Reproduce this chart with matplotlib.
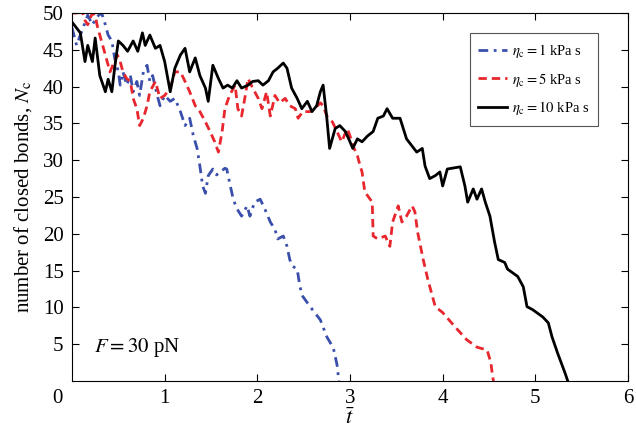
import matplotlib
matplotlib.use('Agg')
import matplotlib.pyplot as plt

plt.rcParams['font.family'] = 'serif'
plt.rcParams['font.serif'] = ['Liberation Serif', 'DejaVu Serif']
plt.rcParams['mathtext.fontset'] = 'stix'

# eta_c = 1 kPa s
t_1 = [0.00, 0.05, 0.09, 0.12, 0.17, 0.22, 0.27, 0.32, 0.36, 0.39, 0.43, 0.46, 0.50, 0.52,
       0.55, 0.59, 0.63, 0.66, 0.70, 0.73, 0.77, 0.81, 0.84, 0.87, 0.92, 0.95, 1.00, 1.06,
       1.11, 1.17, 1.22, 1.27, 1.31, 1.35, 1.38, 1.41, 1.44, 1.47, 1.52, 1.56, 1.60, 1.65,
       1.67, 1.70, 1.74, 1.78, 1.83, 1.89, 1.92, 1.97, 2.03, 2.08, 2.14, 2.19, 2.22, 2.28,
       2.32, 2.35, 2.38, 2.43, 2.46, 2.49, 2.57, 2.68, 2.75, 2.82, 2.86, 2.88]
n_1 = [48.0, 45.6, 47.0, 48.0, 49.7, 48.4, 49.5, 50.0, 48.4, 47.0, 46.2, 43.9, 42.0, 40.2,
       42.0, 40.2, 41.5, 39.3, 40.7, 38.8, 42.0, 42.9, 40.7, 41.5, 38.8, 37.4, 38.8, 38.0,
       38.4, 36.6, 34.7, 35.7, 33.3, 31.6, 29.2, 26.5, 25.5, 27.9, 28.8, 28.0, 28.4, 28.9,
       28.8, 27.0, 24.7, 23.4, 22.4, 23.8, 22.4, 24.3, 24.7, 23.4, 21.6, 20.6, 19.3, 19.7,
       18.3, 16.5, 15.6, 15.2, 12.8, 11.5, 10.1, 8.3, 6.0, 4.5, 2.2, 0.0]

# eta_c = 5 kPa s
t_5 = [0.01, 0.05, 0.09, 0.14, 0.17, 0.22, 0.25, 0.27, 0.30, 0.36, 0.41, 0.44, 0.49, 0.52,
       0.55, 0.59, 0.63, 0.66, 0.70, 0.73, 0.77, 0.81, 0.84, 0.90, 0.95, 1.00, 1.06, 1.11,
       1.17, 1.22, 1.27, 1.33, 1.38, 1.44, 1.49, 1.54, 1.58, 1.62, 1.65, 1.70, 1.76, 1.79,
       1.83, 1.87, 1.90, 1.95, 2.01, 2.05, 2.10, 2.14, 2.19, 2.24, 2.30, 2.35, 2.41, 2.44,
       2.49, 2.57, 2.62, 2.68, 2.71, 2.75, 2.81, 2.86, 2.91, 2.97, 3.00, 3.03, 3.08, 3.11,
       3.13, 3.16, 3.24, 3.25, 3.30, 3.38, 3.43, 3.46, 3.52, 3.56, 3.61, 3.67, 3.70, 3.73,
       3.79, 3.84, 3.92, 4.00, 4.13, 4.26, 4.37, 4.48, 4.52, 4.54, 4.55]
n_5 = [50.0, 50.0, 51.0, 49.0, 48.4, 50.0, 49.7, 48.4, 47.0, 44.3, 42.0, 42.9, 44.3, 43.4,
       42.0, 41.1, 40.7, 38.4, 37.0, 34.7, 35.7, 37.4, 39.3, 40.7, 38.4, 38.8, 39.8, 42.0,
       42.0, 40.7, 39.3, 37.4, 36.6, 35.2, 33.9, 32.5, 31.1, 33.9, 37.0, 38.8, 40.2, 37.0,
       36.0, 38.8, 41.1, 39.8, 38.4, 37.0, 39.3, 36.0, 38.8, 37.8, 38.4, 37.4, 37.0, 35.7,
       36.6, 36.6, 37.0, 37.8, 37.4, 36.0, 35.2, 33.9, 32.5, 34.3, 33.3, 32.0, 30.6, 29.2,
       28.4, 25.7, 24.3, 19.7, 19.3, 19.7, 18.3, 21.6, 23.8, 21.6, 22.4, 23.8, 23.0, 20.2,
       16.5, 13.8, 10.1, 9.3, 7.4, 5.6, 4.6, 4.2, 2.5, 0.5, 0.0]

# eta_c = 10 kPa s
t_10 = [0.01, 0.09, 0.14, 0.17, 0.22, 0.25, 0.30, 0.36, 0.39, 0.43, 0.46, 0.50, 0.55, 0.60,
        0.66, 0.71, 0.76, 0.79, 0.84, 0.90, 0.95, 1.00, 1.06, 1.11, 1.17, 1.22, 1.27, 1.33,
        1.38, 1.44, 1.47, 1.52, 1.58, 1.63, 1.68, 1.73, 1.78, 1.83, 1.90, 1.95, 2.01, 2.06,
        2.12, 2.17, 2.22, 2.28, 2.32, 2.37, 2.43, 2.48, 2.54, 2.59, 2.64, 2.68, 2.71, 2.75,
        2.78, 2.84, 2.89, 2.95, 3.00, 3.03, 3.08, 3.13, 3.19, 3.25, 3.30, 3.36, 3.40, 3.46,
        3.54, 3.61, 3.72, 3.78, 3.81, 3.86, 3.92, 3.97, 4.00, 4.05, 4.19, 4.24, 4.27, 4.33,
        4.37, 4.42, 4.46, 4.51, 4.56, 4.60, 4.67, 4.70, 4.81, 4.87, 4.91, 4.97, 5.08, 5.14,
        5.18, 5.24, 5.32, 5.35]
n_10 = [48.6, 47.3, 43.4, 45.6, 43.4, 46.6, 41.5, 39.3, 41.0, 39.3, 42.5, 46.2, 45.6, 44.8,
        46.2, 44.8, 47.3, 45.6, 47.0, 45.2, 45.6, 43.4, 39.3, 42.5, 44.3, 45.2, 42.0, 43.9,
        41.5, 39.8, 38.0, 42.9, 41.1, 39.8, 40.2, 39.8, 40.8, 39.8, 40.2, 40.7, 40.8, 40.2,
        40.8, 42.0, 42.5, 43.2, 42.5, 39.8, 38.4, 37.0, 38.0, 36.6, 37.4, 39.3, 40.2, 35.7,
        31.6, 34.3, 34.7, 33.9, 32.5, 31.6, 32.9, 32.5, 33.3, 33.9, 35.7, 36.0, 37.0, 35.7,
        35.7, 32.9, 31.1, 31.6, 29.2, 27.5, 27.9, 28.4, 26.5, 28.8, 29.1, 26.5, 24.3, 26.1,
        24.7, 26.1, 24.3, 22.4, 18.9, 16.5, 16.1, 15.2, 14.2, 12.8, 10.1, 9.7, 8.7, 7.9,
        6.0, 3.8, 1.1, 0.0]

labels = [r'$\eta_\mathrm{c} = 1$ kPa s', r'$\eta_\mathrm{c} = 5$ kPa s', r'$\eta_\mathrm{c} = 10$ kPa s']

fig = plt.figure(figsize=(6.36, 4.41), dpi=100)
ax = fig.add_axes([72/636, 1 - 381/441, 556/636, 368/441])

ax.plot(t_1, n_1, color='#3a4fab', ls=(0, (3.5, 2, 1, 2)), lw=2.0, label=labels[0])
ax.plot(t_5, n_5, color='#e8262d', ls=(0, (3, 1.8)), lw=2.0, label=labels[1])
ax.plot(t_10, n_10, color='black', ls='-', lw=2.0, label=labels[2])

ax.set_xlim(0, 6)
ax.set_ylim(0, 50)
ax.set_xticks([1, 2, 3, 4, 5, 6])
ax.set_yticks([5, 10, 15, 20, 25, 30, 35, 40, 45, 50])
ax.tick_params(direction='in', top=True, right=True, labelsize=15, length=5, pad=6)
ax.annotate('0', xy=(0, 0), xycoords='data', xytext=(-15, -8),
            textcoords='offset pixels', ha='center', va='top', fontsize=15)

ax.set_xlabel(r'$\bar{t}$', fontsize=16, labelpad=0)
ax.set_ylabel(r'number of closed bonds, $N_\mathrm{c}$', fontsize=15, labelpad=6)

ax.text(0.04, 0.09, r'$F = 30$ pN', transform=ax.transAxes, fontsize=15, va='center')

leg = ax.legend(loc='upper right', bbox_to_anchor=(0.946, 0.946), borderaxespad=0,
                fontsize=10.5, fancybox=False, edgecolor='#555555', handlelength=2.0,
                handletextpad=0.3, borderpad=0.6, labelspacing=0.75, framealpha=1)
leg.get_frame().set_linewidth(0.8)

fig.savefig('out.png', dpi=100)
